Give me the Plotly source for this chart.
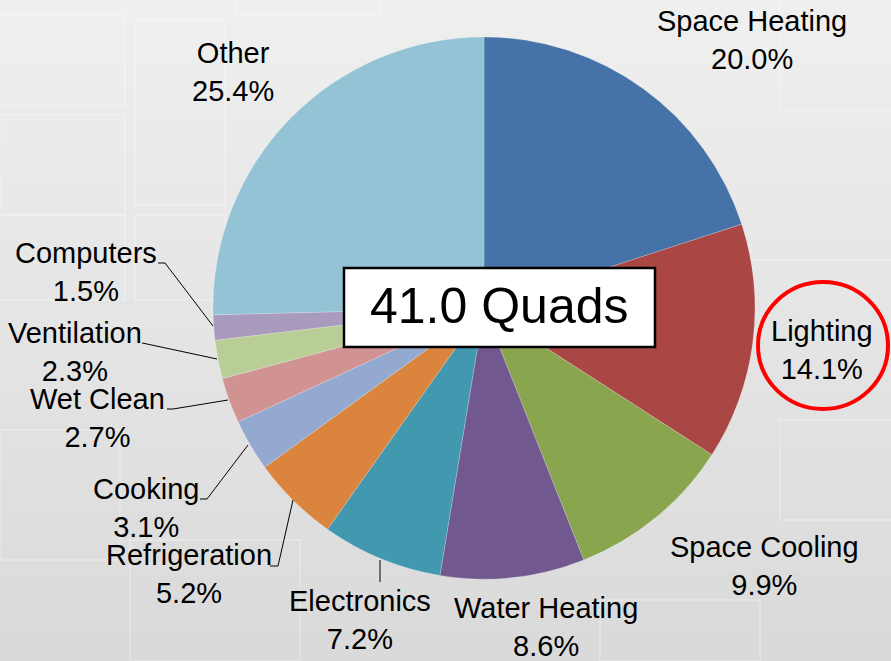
import plotly.graph_objects as go

# ---- data ----
categories = ["Space Heating", "Lighting", "Space Cooling", "Water Heating", "Electronics",
              "Refrigeration", "Cooking", "Wet Clean", "Ventilation", "Computers", "Other"]
shares = [20.0, 14.1, 9.9, 8.6, 7.2, 5.2, 3.1, 2.7, 2.3, 1.5, 25.4]
total_label = "41.0 Quads"

colors = ["#4572A7", "#AA4643", "#89A54E", "#71588F", "#4198AF",
          "#DB843D", "#93A9CF", "#D19392", "#B9CD96", "#A99BBD", "#93C3D5"]

W, H = 891, 661
def px(x): return x / W
def py(y): return 1 - y / H

# pie geometry (pixels)
cx, cy, r = 484, 308, 271

fig = go.Figure()
fig.add_trace(go.Pie(
    labels=categories, values=shares, sort=False, direction="clockwise", rotation=0,
    marker=dict(colors=colors, line=dict(color="rgba(255,255,255,0.35)", width=0.6)),
    textinfo="none", hoverinfo="skip", showlegend=False,
    domain=dict(x=[px(cx - r), px(cx + r)], y=[py(cy + r), py(cy - r)]),
))

# label positions (pixel centres of text blocks)
label_pos = {
    "Space Heating": (752, 40),
    "Lighting": (822, 350),
    "Space Cooling": (764, 566),
    "Water Heating": (546, 627),
    "Electronics": (360, 620),
    "Refrigeration": (189, 574),
    "Cooking": (146, 508),
    "Wet Clean": (97, 418),
    "Ventilation": (75, 352),
    "Computers": (86, 272),
    "Other": (233, 72),
}
font = dict(family="Liberation Sans, Arial, sans-serif", size=29, color="#000000")
annotations = []
for cat, val in zip(categories, shares):
    x, y = label_pos[cat]
    annotations.append(dict(x=px(x), y=py(y), xref="paper", yref="paper",
                            text=f"{cat}<br>{val:.1f}%", showarrow=False,
                            font=font, xanchor="center", yanchor="middle"))

annotations.append(dict(x=px(499.5), y=py(306), xref="paper", yref="paper",
                        text=total_label, showarrow=False,
                        font=dict(family="Liberation Sans, Arial, sans-serif", size=50, color="#000"),
                        xanchor="center", yanchor="middle"))

shapes = []
# background gradient
n = 22
for i in range(n):
    t = i / (n - 1)
    g = int(round(239 - 21 * t))
    shapes.append(dict(type="rect", xref="paper", yref="paper", layer="below",
                       x0=0, x1=1, y0=py((i + 1) * H / n), y1=py(i * H / n),
                       fillcolor=f"rgb({g},{g},{g})", line=dict(width=0)))
# faint tile outlines
tiles = [(-10, 15, 125, 105), (135, 20, 225, 205), (0, 115, 125, 215), (235, 0, 380, 15),
         (-10, 215, 125, 300), (135, 215, 225, 300), (780, 0, 905, 110), (650, 120, 905, 260),
         (0, 430, 120, 560), (780, 420, 905, 520), (130, 540, 300, 661), (600, 600, 760, 661)]
for (x0, y0, x1, y1) in tiles:
    shapes.append(dict(type="rect", xref="paper", yref="paper", layer="below",
                       x0=px(x0), x1=px(x1), y0=py(y1), y1=py(y0),
                       fillcolor="rgba(0,0,0,0)", line=dict(color="rgba(255,255,255,0.22)", width=2)))

# leader lines
leaders = [
    [(158, 263), (165, 263), (213, 326)],
    [(142, 343), (147, 344), (217, 359)],
    [(167, 409), (173, 409), (228, 400)],
    [(200, 499), (207, 499), (248, 445)],
    [(270, 566), (278, 566), (293, 500)],
    [(380, 560), (380, 582)],
]
for pts in leaders:
    path = "M " + " L ".join(f"{px(x)},{py(y)}" for x, y in pts)
    shapes.append(dict(type="path", xref="paper", yref="paper", path=path,
                       line=dict(color="#000000", width=1)))

# total box
shapes.append(dict(type="rect", xref="paper", yref="paper",
                   x0=px(344), x1=px(655), y0=py(347), y1=py(268),
                   fillcolor="#ffffff", line=dict(color="#000000", width=2.5)))
# highlight circle
shapes.append(dict(type="circle", xref="paper", yref="paper",
                   x0=px(758), x1=px(888), y0=py(409), y1=py(282),
                   line=dict(color="#ff0000", width=4)))

fig.update_layout(width=W, height=H, margin=dict(l=0, r=0, t=0, b=0),
                  paper_bgcolor="#e6e6e6", plot_bgcolor="rgba(0,0,0,0)",
                  shapes=shapes, annotations=annotations)
fig.write_html("out.html", config={"displayModeBar": False, "staticPlot": True},
               post_script="document.body.style.margin='0';document.body.style.overflow='hidden';")
